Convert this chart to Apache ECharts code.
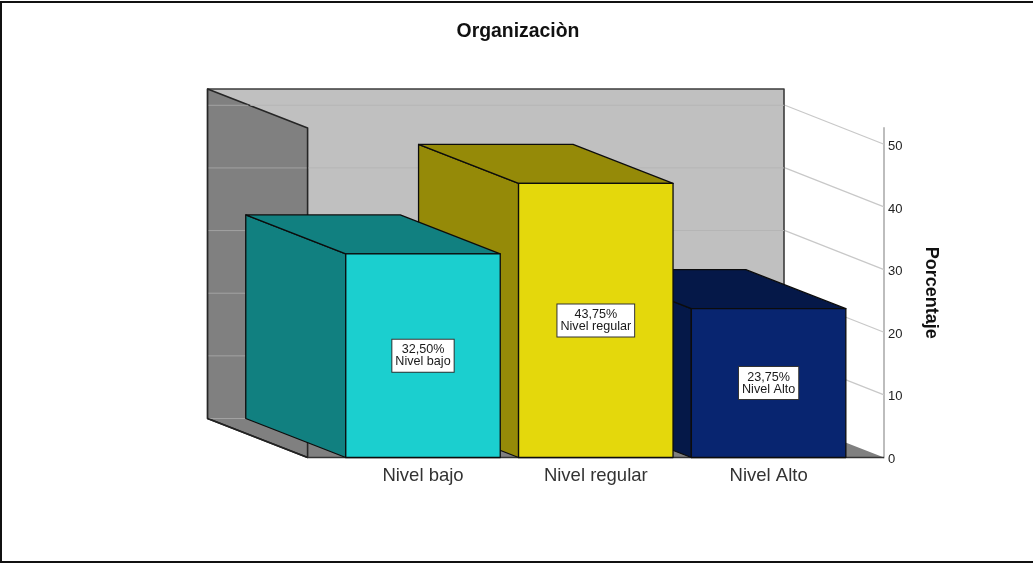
<!DOCTYPE html>
<html>
<head>
<meta charset="utf-8">
<style>html,body{margin:0;padding:0;background:#fff}#c{width:1033px;height:563px}</style>
<script src="https://cdn.jsdelivr.net/npm/echarts@6/dist/echarts.min.js"></script>
</head>
<body>
<div id="c"></div>
<script>
var categories = ['Nivel bajo', 'Nivel regular', 'Nivel Alto'];
var percentages = [32.5, 43.75, 23.75];
var gridValues = [0, 10, 20, 30, 40, 50];
var frontColors = ['#1bcfcf', '#e4d80c', '#082570'];
var sideColors = ['#118080', '#958a08', '#051848'];

var FONT = '"Liberation Sans", Arial, sans-serif';
var DX = 100, DY = 39, AXIS_GAP = 29, BAR_RATIO = 0.894;

function lineEl(x1, y1, x2, y2, color, width, z2) {
  return {type: 'line', z2: z2,
    shape: {x1: x1, y1: y1, x2: x2, y2: y2},
    style: {stroke: color, lineWidth: width}};
}
function polyEl(points, fill, stroke, width, z2) {
  return {type: 'polygon', z2: z2, shape: {points: points},
    style: {fill: fill, stroke: stroke, lineWidth: width, lineJoin: 'round'}};
}

function renderBox(params, api) {
  var cs = params.coordSys;
  var fl = cs.x - AXIS_GAP, fr = cs.x + cs.width + AXIS_GAP;
  var y0 = api.coord([0, 0])[1], yt = cs.y;
  var bl = fl - DX, br = fr - DX;
  var kids = [];
  kids.push(polyEl([[bl, yt - DY], [br, yt - DY], [br, y0 - DY], [bl, y0 - DY]], '#c0c0c0', '#3c3c3c', 1.6, 1));
  kids.push(polyEl([[bl, y0 - DY], [br, y0 - DY], [fr, y0], [fl, y0]], '#808080', null, 0, 2));
  kids.push(polyEl([[bl, yt - DY], [fl, yt], [fl, y0], [bl, y0 - DY]], '#808080', '#262626', 1.6, 3));
  gridValues.forEach(function (v) {
    var yf = api.coord([0, v])[1], yb = yf - DY;
    var slopeX = Math.min(bl + (yb - (yt - DY)) * DX / DY, fl);
    kids.push(lineEl(bl + 1, yb, slopeX - 1, yb, '#a2a2a2', 1, 4));
    if (v > 0) {
      kids.push(lineEl(slopeX + 1, yb, br, yb, '#b5b5b5', 1, 4));
      kids.push(lineEl(br + 1, yb, fr, yf, '#c8c8c8', 1.2, 4));
    }
  });
  kids.push(lineEl(bl, y0 - DY, fl, y0, '#222', 1.4, 5));
  kids.push(lineEl(fl, y0, fr, y0, '#333', 1.6, 5));
  return {type: 'group', children: kids};
}

function renderBar(params, api) {
  var i = params.dataIndex;
  var top = api.coord([api.value(0), api.value(1)]);
  var y0 = api.coord([api.value(0), 0])[1];
  var w = api.size([1, 0])[0] * BAR_RATIO;
  var l = top[0] - w / 2, r = top[0] + w / 2, t = top[1];
  var z = 20 - i * 3;
  var edge = '#0c0c0c';
  var val = api.value(1).toFixed(2).replace('.', ',') + '%';
  return {type: 'group', children: [
    polyEl([[l - DX, t - DY], [l, t], [l, y0], [l - DX, y0 - DY]], sideColors[i], edge, 1.3, z),
    polyEl([[l - DX, t - DY], [r - DX, t - DY], [r, t], [l, t]], sideColors[i], edge, 1.3, z),
    polyEl([[l, t], [r, t], [r, y0], [l, y0]], frontColors[i], edge, 1.3, z + 1),
    {type: 'text', x: top[0], y: (t + y0) / 2, z2: 40,
      style: {text: val + '\n' + categories[i], font: '12.6px ' + FONT, fill: '#1a1a1a',
        align: 'center', verticalAlign: 'middle', lineHeight: 12,
        backgroundColor: '#fff', borderColor: '#333', borderWidth: 1, padding: [4, 3, 4, 3]}}
  ]};
}

var chart = echarts.init(document.getElementById('c'), null, {renderer: 'canvas'});
chart.setOption({
  animation: false,
  backgroundColor: '#fff',
  title: {
    text: 'Organizaciòn', left: 513, top: 17, textAlign: 'center',
    textStyle: {fontFamily: FONT, fontSize: 19.4, fontWeight: 'bold', color: '#111'}
  },
  grid: {left: 336.6, width: 518.4, top: 128, bottom: 105.5},
  xAxis: {
    type: 'category', data: categories,
    axisLine: {show: false}, axisTick: {show: false}, splitLine: {show: false},
    axisLabel: {fontFamily: FONT, fontSize: 18.5, color: '#333', margin: 9, interval: 0}
  },
  yAxis: {
    type: 'value', position: 'right', offset: AXIS_GAP, min: 0, max: 52.6, interval: 10,
    name: 'Porcentaje', nameLocation: 'middle', nameRotate: -90, nameGap: 38,
    nameTextStyle: {fontFamily: FONT, fontSize: 18, fontWeight: 'bold', color: '#111'},
    axisLine: {show: true, lineStyle: {color: '#bdbdbd', width: 2}},
    axisTick: {show: false}, splitLine: {show: false},
    axisLabel: {
      margin: 4, showMaxLabel: false, formatter: '{t|{value}}',
      rich: {t: {fontFamily: FONT, fontSize: 13, color: '#222', padding: [4, 0, 0, 0]}}
    }
  },
  graphic: [
    {type: 'rect', shape: {x: 0, y: 1, width: 1033, height: 2}, style: {fill: '#111'}},
    {type: 'rect', shape: {x: 0, y: 1, width: 2, height: 562}, style: {fill: '#111'}},
    {type: 'rect', shape: {x: 0, y: 561, width: 1033, height: 2}, style: {fill: '#111'}}
  ],
  series: [
    {type: 'custom', z: 1, silent: true, renderItem: renderBox, data: [[0, 0]], clip: false},
    {type: 'custom', z: 2, silent: true, renderItem: renderBar, clip: false,
      data: percentages.map(function (p, i) { return [i, p]; })}
  ]
});
</script>
</body>
</html>
